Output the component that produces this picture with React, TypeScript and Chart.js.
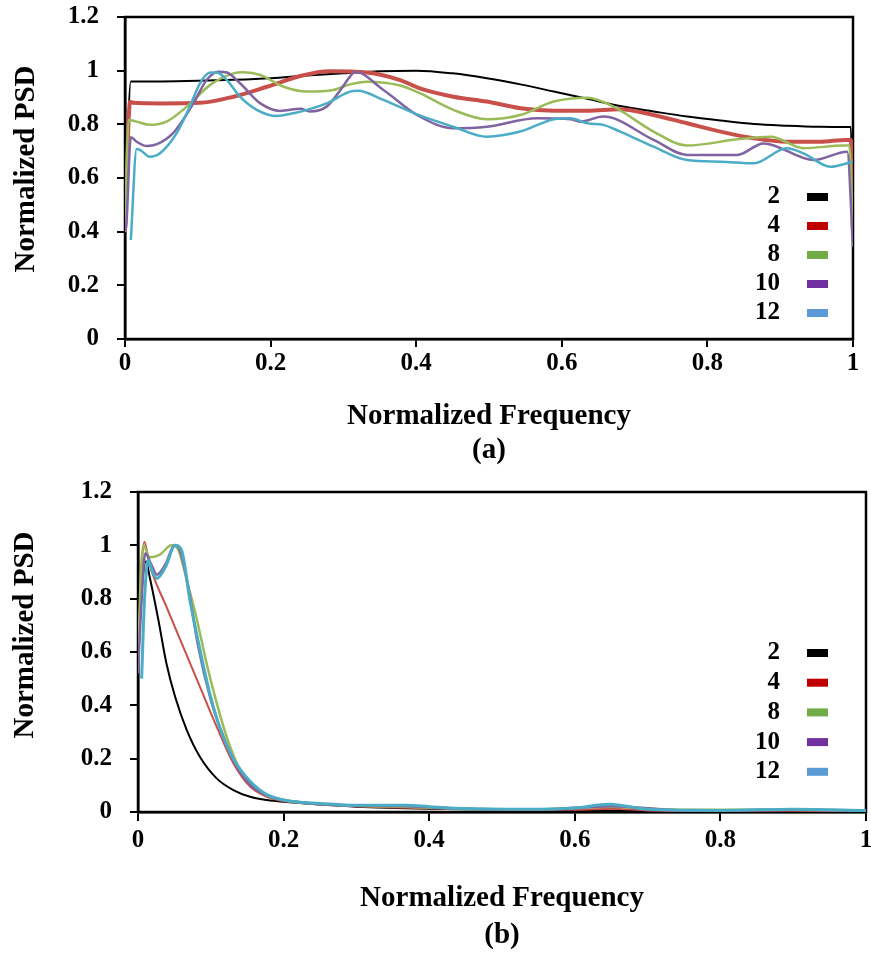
import React, { useEffect, useRef } from 'react';
import { Chart, registerables } from 'chart.js';

Chart.register(...registerables);

const FONT = "'Liberation Serif', 'Times New Roman', serif";

// ---------- shared ----------
const seriesLabels = ['2', '4', '8', '10', '12'];
const lineColors = ['#000000', '#C9504A', '#9BBB59', '#8064A2', '#4BACC6'];
const legendColors = ['#000000', '#C00000', '#70AD47', '#7030A0', '#5B9BD5'];
const xTitleA = ['Normalized Frequency', '(a)'];
const xTitleB = ['Normalized Frequency', '(b)'];
const yTitle = 'Normalized PSD';
const xTickStep = 0.2;
const yTickStep = 0.2;

// ---------- panel (a) ----------
const fA2 = [0, 0.008, 0.05, 0.1, 0.15, 0.2, 0.25, 0.3, 0.35, 0.4, 0.45, 0.497, 0.545, 0.589, 0.635, 0.68, 0.726, 0.772, 0.818, 0.864, 0.91, 0.955, 0.99, 0.997, 1.0];
const pA2 = [0.40, 0.96, 0.96, 0.962, 0.966, 0.972, 0.982, 0.99, 0.998, 1.0, 0.99, 0.972, 0.948, 0.922, 0.895, 0.868, 0.848, 0.829, 0.814, 0.801, 0.795, 0.791, 0.79, 0.79, 0.40];

const fA4 = [0, 0.007, 0.011, 0.05, 0.103, 0.149, 0.195, 0.241, 0.28, 0.332, 0.378, 0.405, 0.451, 0.497, 0.543, 0.589, 0.635, 0.68, 0.726, 0.772, 0.818, 0.864, 0.909, 0.955, 0.99, 0.997, 1.0];
const pA4 = [0.40, 0.884, 0.88, 0.878, 0.88, 0.903, 0.94, 0.98, 0.998, 0.993, 0.965, 0.934, 0.903, 0.885, 0.86, 0.851, 0.851, 0.856, 0.835, 0.804, 0.773, 0.748, 0.735, 0.735, 0.742, 0.742, 0.38];

const fA8 = [0, 0.005, 0.016, 0.034, 0.057, 0.085, 0.117, 0.149, 0.163, 0.186, 0.218, 0.25, 0.286, 0.309, 0.332, 0.378, 0.405, 0.451, 0.497, 0.543, 0.589, 0.635, 0.671, 0.726, 0.772, 0.841, 0.887, 0.932, 0.987, 0.995, 1.0];
const pA8 = [0.40, 0.816, 0.81, 0.798, 0.81, 0.866, 0.947, 0.99, 0.994, 0.984, 0.94, 0.922, 0.928, 0.949, 0.959, 0.945, 0.916, 0.854, 0.819, 0.835, 0.885, 0.899, 0.866, 0.773, 0.721, 0.744, 0.754, 0.711, 0.721, 0.721, 0.36];

const fA10 = [0, 0.002, 0.008, 0.016, 0.03, 0.044, 0.066, 0.094, 0.112, 0.128, 0.14, 0.158, 0.186, 0.213, 0.241, 0.254, 0.277, 0.296, 0.309, 0.316, 0.355, 0.403, 0.451, 0.497, 0.566, 0.612, 0.625, 0.657, 0.726, 0.772, 0.841, 0.877, 0.946, 0.992, 1.0];
const pA10 = [0.40, 0.431, 0.752, 0.735, 0.719, 0.726, 0.767, 0.878, 0.965, 0.996, 0.993, 0.953, 0.878, 0.85, 0.858, 0.848, 0.866, 0.928, 0.978, 0.996, 0.928, 0.832, 0.785, 0.791, 0.823, 0.819, 0.81, 0.829, 0.742, 0.686, 0.686, 0.729, 0.667, 0.698, 0.344];

const fA12 = [0.008, 0.016, 0.021, 0.034, 0.048, 0.071, 0.089, 0.103, 0.117, 0.126, 0.14, 0.158, 0.181, 0.208, 0.231, 0.25, 0.277, 0.309, 0.32, 0.355, 0.403, 0.451, 0.497, 0.543, 0.589, 0.612, 0.635, 0.657, 0.68, 0.726, 0.772, 0.818, 0.864, 0.909, 0.932, 0.969, 1.0];
const pA12 = [0.369, 0.708, 0.704, 0.679, 0.692, 0.767, 0.866, 0.953, 0.993, 0.993, 0.965, 0.903, 0.854, 0.831, 0.841, 0.854, 0.878, 0.922, 0.925, 0.891, 0.835, 0.791, 0.754, 0.773, 0.819, 0.823, 0.804, 0.798, 0.773, 0.717, 0.667, 0.661, 0.655, 0.711, 0.692, 0.642, 0.661];

// ---------- panel (b) ----------
const fB2 = [0, 0.005, 0.011, 0.016, 0.028, 0.039, 0.051, 0.067, 0.085, 0.108, 0.131, 0.154, 0.177, 0.2, 0.25, 0.3, 0.4, 0.5, 0.6, 0.7, 0.8, 0.9, 1.0];
const pB2 = [0.55, 0.82, 0.94, 0.882, 0.72, 0.558, 0.432, 0.307, 0.207, 0.126, 0.082, 0.057, 0.045, 0.038, 0.028, 0.02, 0.012, 0.008, 0.006, 0.004, 0.003, 0.003, 0.002];

const fB4 = [0, 0.004, 0.0087, 0.016, 0.039, 0.062, 0.085, 0.108, 0.131, 0.154, 0.177, 0.204, 0.25, 0.3, 0.4, 0.5, 0.6, 0.65, 0.7, 0.8, 0.9, 1.0];
const pB4 = [0.55, 0.85, 1.013, 0.926, 0.77, 0.62, 0.47, 0.32, 0.183, 0.095, 0.057, 0.039, 0.03, 0.022, 0.014, 0.01, 0.008, 0.012, 0.006, 0.004, 0.005, 0.003];

const fB8 = [0, 0.004, 0.0073, 0.016, 0.03, 0.046, 0.055, 0.067, 0.081, 0.094, 0.108, 0.122, 0.14, 0.163, 0.2, 0.25, 0.3, 0.37, 0.45, 0.55, 0.65, 0.75, 0.9, 1.0];
const pB8 = [0.55, 0.9, 1.0, 0.955, 0.965, 1.0, 0.985, 0.87, 0.72, 0.56, 0.41, 0.28, 0.16, 0.085, 0.045, 0.03, 0.023, 0.02, 0.012, 0.01, 0.02, 0.008, 0.008, 0.005];

const fB10 = [0, 0.004, 0.01, 0.018, 0.026, 0.038, 0.05, 0.057, 0.068, 0.082, 0.1, 0.115, 0.13, 0.155, 0.18, 0.2, 0.25, 0.3, 0.37, 0.45, 0.55, 0.65, 0.75, 0.9, 1.0];
const pB10 = [0.52, 0.75, 0.97, 0.93, 0.89, 0.93, 1.0, 0.985, 0.86, 0.63, 0.42, 0.3, 0.2, 0.1, 0.06, 0.045, 0.03, 0.024, 0.022, 0.012, 0.01, 0.022, 0.006, 0.008, 0.005];

const fB12 = [0.005, 0.009, 0.014, 0.02, 0.026, 0.038, 0.051, 0.06, 0.071, 0.085, 0.099, 0.113, 0.131, 0.154, 0.177, 0.2, 0.223, 0.25, 0.3, 0.37, 0.4, 0.45, 0.55, 0.6, 0.648, 0.7, 0.8, 0.9, 1.0];
const pB12 = [0.5, 0.8, 0.945, 0.9, 0.876, 0.92, 1.0, 0.98, 0.8, 0.61, 0.44, 0.31, 0.2, 0.115, 0.065, 0.045, 0.037, 0.032, 0.025, 0.025, 0.02, 0.013, 0.01, 0.015, 0.029, 0.01, 0.006, 0.01, 0.005];

const freqsA = [fA2, fA4, fA8, fA10, fA12];
const psdsA = [pA2, pA4, pA8, pA10, pA12];
const freqsB = [fB2, fB4, fB8, fB10, fB12];
const psdsB = [pB2, pB4, pB8, pB10, pB12];

function buildDatasets(xs: number[][], ys: number[][], widths: number[]) {
  return seriesLabels.map((label, i) => ({
    label,
    data: xs[i].map((x, j) => ({ x, y: ys[i][j] })),
    borderColor: lineColors[i],
    backgroundColor: lineColors[i],
    borderWidth: widths[i],
    pointRadius: 0,
    pointHoverRadius: 0,
    cubicInterpolationMode: 'monotone' as const,
    fill: false,
    order: seriesLabels.length - i,
  }));
}

const fmtTick = (v: any) => String(Math.round(Number(v) * 10) / 10);

const framePlugin = {
  id: 'frame',
  beforeDatasetsDraw(chart: any) {
    const { ctx, chartArea: a } = chart;
    ctx.save();
    ctx.strokeStyle = '#000';
    ctx.lineWidth = 2.5;
    ctx.strokeRect(a.left, a.top, a.right - a.left, a.bottom - a.top);
    ctx.restore();
  },
};

const yTitlePlugin = {
  id: 'yTitleText',
  afterDraw(chart: any, _args: any, opts: any) {
    const { ctx } = chart;
    ctx.save();
    ctx.translate(opts.cx, opts.cy);
    ctx.rotate(-Math.PI / 2);
    ctx.font = `bold ${opts.size}px ${FONT}`;
    ctx.fillStyle = '#000';
    ctx.textAlign = 'center';
    ctx.textBaseline = 'middle';
    ctx.fillText(opts.text, 0, 0);
    ctx.restore();
  },
};

const insideLegendPlugin = {
  id: 'insideLegend',
  afterDraw(chart: any, _args: any, opts: any) {
    const { ctx, chartArea } = chart;
    ctx.save();
    ctx.font = `bold ${opts.size}px ${FONT}`;
    ctx.textAlign = 'right';
    ctx.textBaseline = 'middle';
    chart.data.datasets.forEach((ds: any, i: number) => {
      const y = chartArea.top + opts.firstRow + i * opts.rowStep;
      ctx.fillStyle = '#000';
      ctx.fillText(ds.label, opts.labelRight, y);
      ctx.fillStyle = legendColors[i];
      ctx.fillRect(opts.boxLeft, y - opts.boxH / 2, opts.boxW, opts.boxH);
    });
    ctx.restore();
  },
};

function PanelChart({ p }: { p: any }) {
  const ref = useRef<HTMLCanvasElement | null>(null);
  useEffect(() => {
    if (!ref.current) return;
    const chart = new Chart(ref.current, {
      type: 'line',
      data: { datasets: buildDatasets(p.xs, p.ys, p.widths) as any },
      plugins: [framePlugin, insideLegendPlugin, yTitlePlugin],
      options: {
        animation: false,
        responsive: false,
        maintainAspectRatio: false,
        devicePixelRatio: 1,
        layout: { padding: { top: p.areaTop, right: 871 - p.areaRight, bottom: 0, left: 0 } },
        plugins: {
          legend: { display: false },
          tooltip: { enabled: false },
          insideLegend: {
            size: 25,
            firstRow: p.legendFirst,
            rowStep: p.legendStep,
            labelRight: 780,
            boxLeft: 807,
            boxW: 21,
            boxH: 8,
          },
          yTitleText: { text: yTitle, size: 29, cx: p.yTitleX, cy: p.yTitleY },
        } as any,
        scales: {
          x: {
            type: 'linear',
            min: 0,
            max: 1,
            ticks: {
              stepSize: xTickStep,
              color: '#000',
              padding: p.xTickPad,
              maxRotation: 0,
              callback: fmtTick,
              font: { family: FONT, size: 25, weight: 'bold', lineHeight: 1.2 },
            },
            grid: { drawOnChartArea: false, drawTicks: true, tickLength: p.xTickLen, color: '#000', lineWidth: 2 },
            border: { display: true, color: '#000', width: 2.5 },
            title: {
              display: true,
              text: p.xTitle,
              color: '#000',
              font: { family: FONT, size: 29, weight: 'bold', lineHeight: p.xTitleLH },
              padding: { top: 0, bottom: p.xTitlePadBottom },
            },
            afterFit: (s: any) => {
              s.height = p.height - p.areaBottomPx;
              s.paddingLeft = 0;
              s.paddingRight = 0;
            },
          } as any,
          y: {
            type: 'linear',
            min: 0,
            max: 1.2,
            ticks: {
              stepSize: yTickStep,
              color: '#000',
              padding: 18,
              callback: fmtTick,
              font: { family: FONT, size: 25, weight: 'bold' },
            },
            grid: { drawOnChartArea: false, drawTicks: true, tickLength: 8, color: '#000', lineWidth: 2 },
            border: { display: true, color: '#000', width: 2.5 },
            title: { display: false },
            afterFit: (s: any) => {
              s.width = p.areaLeft;
              s.paddingTop = 0;
              s.paddingBottom = 0;
            },
          } as any,
        },
      },
    });
    return () => chart.destroy();
  }, [p]);
  return <canvas ref={ref} width={871} height={p.height} style={{ display: 'block', width: 871, height: p.height }} />;
}

const panelA: any = {
  height: 470,
  areaTop: 17,
  areaBottomPx: 339,
  areaLeft: 125,
  areaRight: 853,
  xTitle: xTitleA,
  xTitleLH: 1.17,
  xTitlePadBottom: 2.8,
  xTickLen: 8,
  xTickPad: 2,
  legendFirst: 180,
  legendStep: 29,
  yTitleX: 27,
  yTitleY: 169,
  widths: [2, 4, 2.5, 2.5, 2.5],
  xs: freqsA,
  ys: psdsA,
};

const panelB: any = {
  height: 486,
  areaTop: 22,
  areaBottomPx: 342,
  areaLeft: 138,
  areaRight: 866,
  xTitle: xTitleB,
  xTitleLH: 1.28,
  xTitlePadBottom: 2.3,
  xTickLen: 9,
  xTickPad: 5,
  legendFirst: 161,
  legendStep: 29.7,
  yTitleX: 26,
  yTitleY: 165,
  widths: [2, 2, 2.5, 2.5, 3],
  xs: freqsB,
  ys: psdsB,
};

export default function App() {
  return (
    <div style={{ position: 'absolute', left: 0, top: 0, width: 871, height: 956, background: '#fff' }}>
      <PanelChart p={panelA} />
      <PanelChart p={panelB} />
    </div>
  );
}
